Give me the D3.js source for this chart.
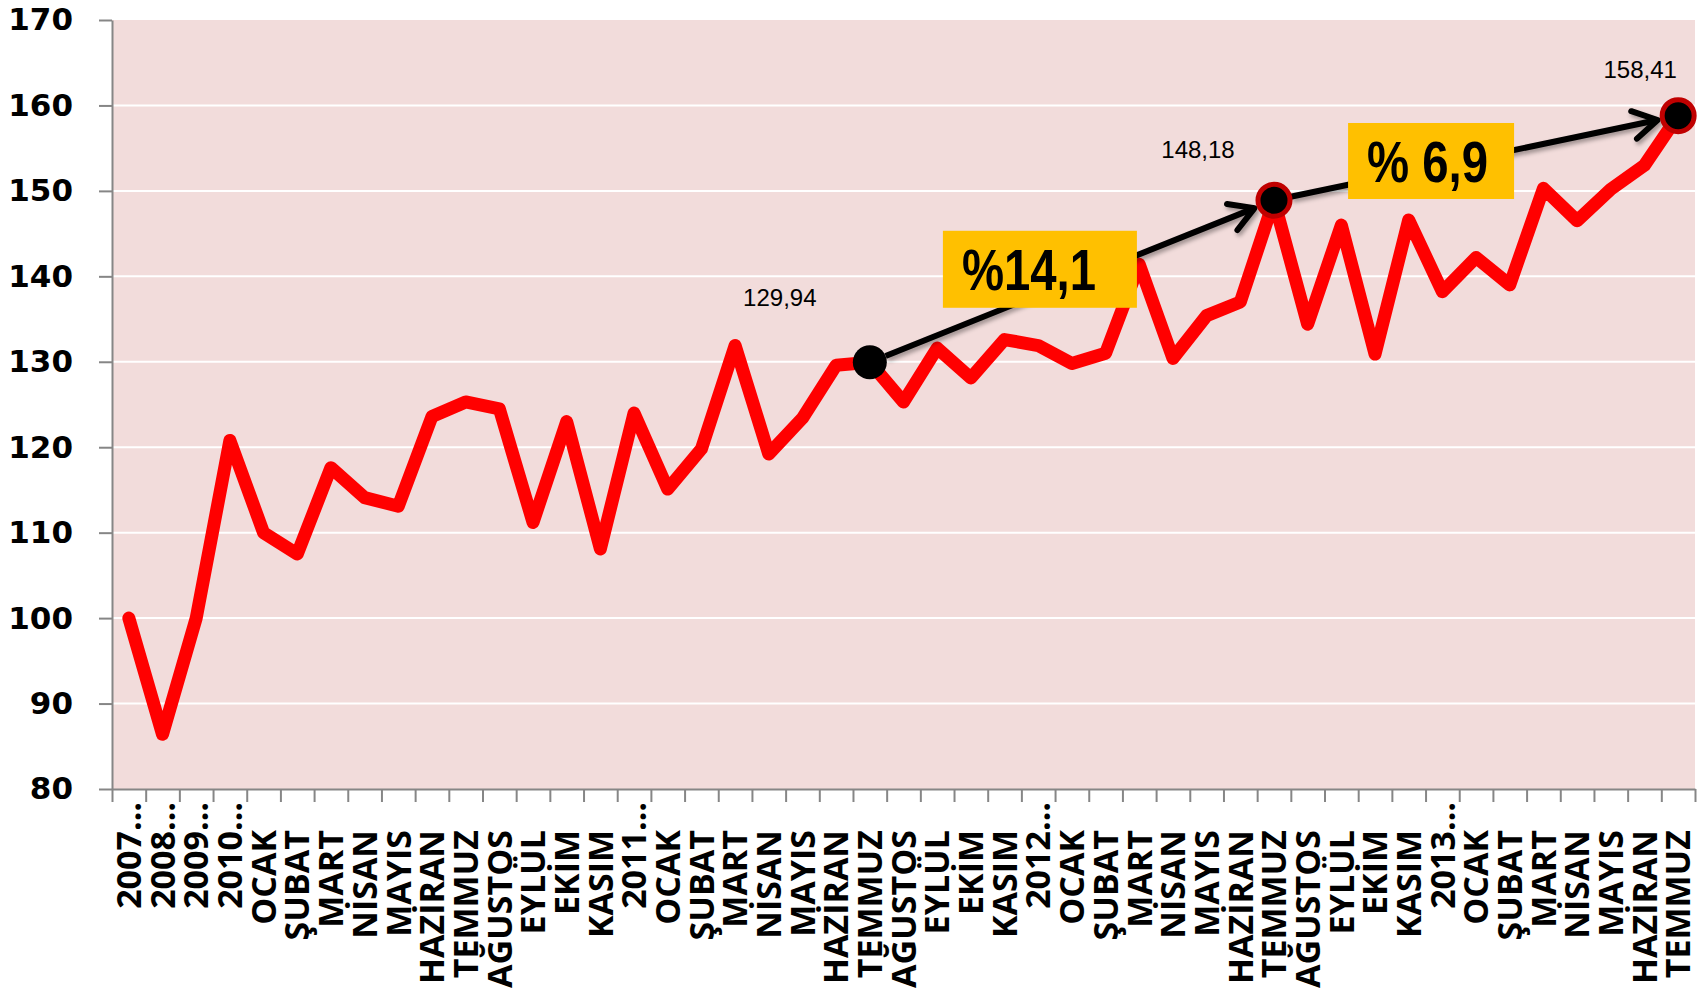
<!doctype html>
<html lang="tr">
  <head>
    <meta charset="utf-8">
    <script src="https://cdn.jsdelivr.net/npm/d3@7"></script>
    <style>
      body { margin:0; background:#fff }
      svg { display:block }
      .yax text { font-family: "DejaVu Sans", Verdana, sans-serif; font-weight:bold; font-size:31px; fill:#000 }
      .xax text { font-family: "Open Sans", "Noto Sans", sans-serif; font-weight:bold; font-size:34px; fill:#000 }
      .lbl { font-family: "Liberation Sans", Arial, sans-serif; font-size:24px; fill:#000 }
      .pct { font-family: "Liberation Sans", Arial, sans-serif; font-weight:bold; font-size:57px; fill:#000 }
    </style>
    <title>Endeks</title>
  </head>
  <body>
    <script>
      // categories along the bottom
      const categories = ["2007…","2008…","2009…","2010…",
        "OCAK","ŞUBAT","MART","NİSAN","MAYIS","HAZİRAN","TEMMUZ","AĞUSTOS","EYLÜL","EKİM","KASIM",
        "2011…","OCAK","ŞUBAT","MART","NİSAN","MAYIS","HAZİRAN","TEMMUZ","AĞUSTOS","EYLÜL","EKİM","KASIM",
        "2012…","OCAK","ŞUBAT","MART","NİSAN","MAYIS","HAZİRAN","TEMMUZ","AĞUSTOS","EYLÜL","EKİM","KASIM",
        "2013…","OCAK","ŞUBAT","MART","NİSAN","MAYIS","HAZİRAN","TEMMUZ"];

      // index values
      const values = [100, 86.4, 100, 120.8,
        110.0, 107.5, 117.6, 114.1, 113.1, 123.6, 125.3, 124.5, 111.2, 123.0, 108.1,
        124.0, 115.1, 119.8, 131.9, 119.2, 123.4, 129.6, 129.94, 125.3, 131.6, 128.1, 132.6,
        131.9, 129.8, 131.0, 141.4, 130.4, 135.4, 137.0, 148.9, 134.4, 146.0, 130.9, 146.6,
        138.2, 142.2, 139.0, 150.3, 146.5, 150.2, 153.0, 158.8];

      const yTicks = [80, 90, 100, 110, 120, 130, 140, 150, 160, 170];

      // highlighted points and their labels
      const markedIdx = [22, 34, 46];
      const markedLabels = ["129,94", "148,18", "158,41"];
      const changeLabels = ["%14,1", "% 6,9"];

      let margin = {top:20, left:112, right:10, bottom:209};
      let W = 1705, H = 998;
      let w = W - margin.left - margin.right;
      let h = H - margin.top - margin.bottom;

      let svg = d3.select("body").append("svg")
        .attr("width", W)
        .attr("height", H);

      let defs = svg.append("defs");

      let canvas = svg.append("g")
        .attr("transform", "translate(" + margin.left + "," + margin.top + ")");

      let xBand = d3.scaleBand().domain(d3.range(categories.length)).range([0, w]);
      let xEdge = d3.scaleLinear().domain([0, categories.length]).range([0, w]);
      let y = d3.scaleLinear().domain([80, 170]).range([h, 0]);
      let cx = (i) => xBand(i) + xBand.bandwidth() / 2;

      // plot background
      canvas.append("rect")
        .attr("width", w)
        .attr("height", h)
        .attr("fill", "#f2dcdb");

      // white gridlines
      canvas.append("g")
        .selectAll("line")
        .data(yTicks.slice(1, -1))
        .enter()
        .append("line")
        .attr("x1", 0).attr("x2", w)
        .attr("y1", d => y(d)).attr("y2", d => y(d))
        .attr("stroke", "#fff")
        .attr("stroke-width", 2);

      // y axis
      let yAxis = canvas.append("g")
        .attr("class", "yax")
        .call(d3.axisLeft(y).tickValues(yTicks).tickSize(13).tickPadding(26).tickSizeOuter(0));
      yAxis.select(".domain").attr("stroke", "#868686").attr("stroke-width", 2);
      yAxis.selectAll(".tick line").attr("stroke", "#868686").attr("stroke-width", 2);

      // x axis tick marks on category boundaries
      let xTicks = canvas.append("g")
        .attr("transform", "translate(0," + h + ")")
        .call(d3.axisBottom(xEdge).tickValues(d3.range(categories.length + 1)).tickSize(13).tickFormat("").tickSizeOuter(0));
      xTicks.select(".domain").attr("stroke", "#868686").attr("stroke-width", 2);
      xTicks.selectAll(".tick line").attr("stroke", "#868686").attr("stroke-width", 2);

      // x labels, rotated
      let xLabels = canvas.append("g")
        .attr("class", "xax")
        .attr("transform", "translate(0," + h + ")")
        .call(d3.axisBottom(xBand).tickSize(0).tickFormat(i => categories[i]));
      xLabels.select(".domain").remove();
      xLabels.selectAll("text")
        .attr("transform", "rotate(-90)")
        .attr("text-anchor", "end")
        .attr("x", (i) => categories[i].endsWith("…") ? -13 : -41)
        .attr("y", 0)
        .attr("dy", "0.36em");

      // red line
      let line = d3.line()
        .x((d, i) => cx(i))
        .y(d => y(d));

      canvas.append("path")
        .datum(values)
        .attr("d", line)
        .attr("fill", "none")
        .attr("stroke", "#ff0000")
        .attr("stroke-width", 13)
        .attr("stroke-linejoin", "round")
        .attr("stroke-linecap", "round");

      // soft shadow for arrows
      let shadow = defs.append("filter")
        .attr("id", "shadow")
        .attr("x", "-20%").attr("y", "-20%")
        .attr("width", "140%").attr("height", "140%");
      shadow.append("feDropShadow")
        .attr("dx", 2).attr("dy", 3)
        .attr("stdDeviation", 2)
        .attr("flood-color", "#000")
        .attr("flood-opacity", 0.35);

      // arrow heads
      defs.append("marker")
        .attr("id", "head")
        .attr("markerUnits", "userSpaceOnUse")
        .attr("viewBox", "-30 -20 36 40")
        .attr("refX", 0).attr("refY", 0)
        .attr("markerWidth", 36).attr("markerHeight", 40)
        .attr("orient", "auto")
        .append("path")
        .attr("d", "M-24,-14 L0,0 L-24,14")
        .attr("fill", "none")
        .attr("stroke", "#000")
        .attr("stroke-width", 6)
        .attr("stroke-linecap", "round")
        .attr("stroke-linejoin", "round");

      let pts = markedIdx.map(i => ({x: cx(i), y: y(values[i])}));

      for (let k = 0; k < pts.length - 1; k++) {
        let a = pts[k], b = pts[k + 1];
        let dx = b.x - a.x, dy = b.y - a.y;
        let len = Math.sqrt(dx * dx + dy * dy);
        let ux = dx / len, uy = dy / len;
        canvas.append("line")
          .attr("x1", a.x + ux * 17).attr("y1", a.y + uy * 17)
          .attr("x2", b.x - ux * 21).attr("y2", b.y - uy * 21)
          .attr("stroke", "#000")
          .attr("stroke-width", 6)
          .attr("filter", "url(#shadow)")
          .attr("marker-end", "url(#head)");
      }

      // percent change boxes
      let boxes = [{w:194, h:77, ox:-32, oy:-12}, {w:166, h:76, ox:-45, oy:3}];
      changeLabels.forEach((t, k) => {
        let a = pts[k], b = pts[k + 1];
        let mx = (a.x + b.x) / 2 + boxes[k].ox;
        let my = (a.y + b.y) / 2 + boxes[k].oy;
        let bx = mx - boxes[k].w / 2;
        canvas.append("rect")
          .attr("x", bx)
          .attr("y", my - boxes[k].h / 2)
          .attr("width", boxes[k].w)
          .attr("height", boxes[k].h)
          .attr("fill", "#ffc000");
        canvas.append("text")
          .attr("class", "pct")
          .attr("transform", "translate(" + (bx + 19) + "," + my + ") scale(0.83,1)")
          .attr("dy", "0.36em")
          .text(t);
      });

      // markers
      canvas.selectAll("circle.mk")
        .data(markedIdx)
        .enter()
        .append("circle")
        .attr("class", "mk")
        .attr("cx", i => cx(i))
        .attr("cy", i => y(values[i]))
        .attr("r", (i, k) => k == 0 ? 17 : 16)
        .attr("fill", "#000")
        .attr("stroke", (i, k) => k == 0 ? "none" : "#c00000")
        .attr("stroke-width", 5);

      // value labels
      let lblDx = [-90, -76, -38];
      let lblDy = [-56, -42, -38];
      canvas.selectAll("text.lbl")
        .data(markedIdx)
        .enter()
        .append("text")
        .attr("class", "lbl")
        .attr("text-anchor", "middle")
        .attr("x", (i, k) => cx(i) + lblDx[k])
        .attr("y", (i, k) => y(values[i]) + lblDy[k])
        .text((i, k) => markedLabels[k]);
    </script>
  </body>
</html>
